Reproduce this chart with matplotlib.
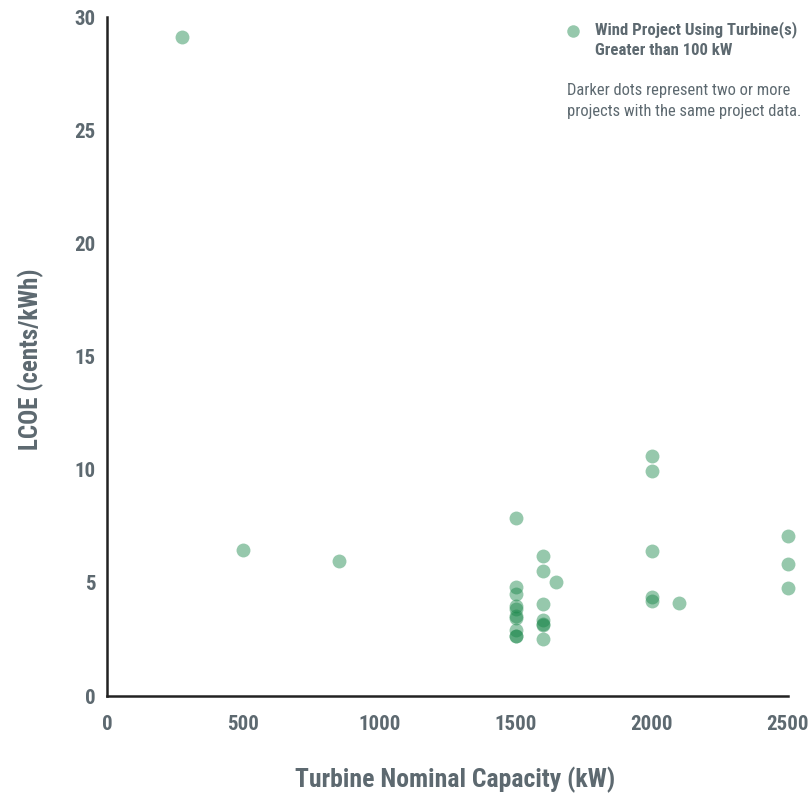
import matplotlib
matplotlib.use("Agg")
from matplotlib import pyplot as plt

plt.rcParams["font.family"] = ["Roboto Condensed", "DejaVu Sans"]

TEXT = "#5d6970"
DOT = "#168547"

# turbine nominal capacity (kW) and LCOE (cents/kWh)
capacity = [275, 500, 850,
            1500, 1500, 1500, 1500, 1500, 1500, 1500, 1500, 1500, 1500,
            1600, 1600, 1600, 1600, 1600, 1600, 1600, 1650,
            2000, 2000, 2000, 2000, 2000, 2100,
            2500, 2500, 2500]
lcoe = [29.1, 6.45, 5.97,
        7.87, 4.8, 4.53, 3.97, 3.85, 3.54, 3.43, 2.92, 2.67, 2.65,
        6.19, 5.54, 4.07, 3.36, 3.2, 3.15, 2.5, 5.02,
        10.62, 9.96, 6.41, 4.39, 4.2, 4.1,
        7.08, 5.82, 4.77]

x_ticks = [0, 500, 1000, 1500, 2000, 2500]
y_ticks = [0, 5, 10, 15, 20, 25, 30]

fig = plt.figure(figsize=(8.09, 7.95), dpi=100)
ax = fig.add_axes([0.1323, 0.1245, 0.8417, 0.854])

ax.scatter(capacity, lcoe, s=100, color=DOT, alpha=0.45, linewidths=0, clip_on=False)

ax.set_xlim(0, 2500)
ax.set_ylim(0, 30)
ax.set_xticks(x_ticks)
ax.set_yticks(y_ticks)
ax.tick_params(length=0, labelsize=15, labelcolor=TEXT)
ax.tick_params(axis="x", pad=14)
ax.tick_params(axis="y", pad=8)
for lab in ax.get_xticklabels() + ax.get_yticklabels():
    lab.set_fontweight("bold")

for side in ["top", "right"]:
    ax.spines[side].set_visible(False)
for side in ["left", "bottom"]:
    ax.spines[side].set_linewidth(1.8)
    ax.spines[side].set_color("#222222")

fig.text(0.563, 1 - 780 / 795, "Turbine Nominal Capacity (kW)", ha="center", va="center",
         fontsize=18.5, fontweight="bold", color=TEXT)
fig.text(0.038, 0.548, "LCOE (cents/kWh)", ha="center", va="center", rotation=90,
         fontsize=18, fontweight="bold", color=TEXT)

# legend
fig.add_artist(plt.Line2D([573 / 809], [1 - 31 / 795], marker="o", markersize=9,
                          color=DOT, alpha=0.45, markeredgewidth=0,
                          transform=fig.transFigure))
fig.text(595 / 809, 1 - 21 / 795, "Wind Project Using Turbine(s)\nGreater than 100 kW",
         ha="left", va="top", fontsize=12.1, fontweight="bold", color=TEXT,
         linespacing=1.45)
fig.text(567 / 809, 1 - 83 / 795, "Darker dots represent two or more\nprojects with the same project data.",
         ha="left", va="top", fontsize=11.9, color=TEXT, linespacing=1.5)

fig.savefig("out.png", dpi=100)
